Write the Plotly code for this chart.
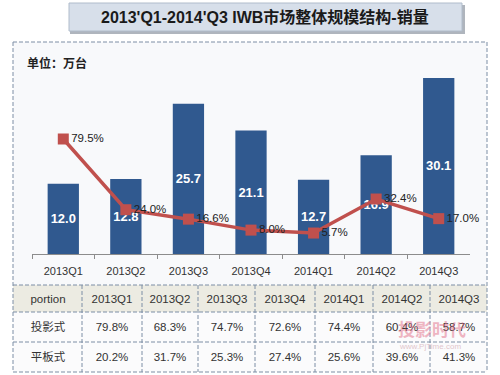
import plotly.graph_objects as go

categories = ['2013Q1', '2013Q2', '2013Q3', '2013Q4', '2014Q1', '2014Q2', '2014Q3']
sales = [12.0, 12.8, 25.7, 21.1, 12.7, 16.9, 30.1]
growth = [79.5, 24.0, 16.6, 8.0, 5.7, 32.4, 17.0]
projector_share = ['79.8%', '68.3%', '74.7%', '72.6%', '74.4%', '60.4%', '58.7%']
flat_share = ['20.2%', '31.7%', '25.3%', '27.4%', '25.6%', '39.6%', '41.3%']
row_names = ['投影式', '平板式']
header_first = 'portion'

W, H = 500, 375
FONT = 'Liberation Sans, Arial, Noto Sans CJK SC, sans-serif'


def px(x):
    return x / W


def py(y):
    return 1 - y / H


fig = go.Figure()

fig.add_trace(go.Bar(
    x=categories, y=sales, marker=dict(color='#30598f', line=dict(width=0)),
    texttemplate='%{y:.1f}', textposition='inside', insidetextanchor='middle',
    textangle=0, textfont=dict(color='white', size=13, family=FONT, weight='bold'),
    yaxis='y', showlegend=False, cliponaxis=False, hoverinfo='skip',
))

fig.add_trace(go.Scatter(
    x=categories, y=growth, mode='lines+markers+text',
    line=dict(color='#c0504d', width=3.5),
    marker=dict(symbol='square', size=11, color='#c0504d'),
    texttemplate='%{y:.1f}%', textposition='middle right',
    textfont=dict(color='#222222', size=11.5, family=FONT),
    yaxis='y2', showlegend=False, cliponaxis=False, hoverinfo='skip',
))

# ---- table built as a heatmap on its own axes ----
col_widths = [69, 60, 56, 57, 60, 58, 57, 57]
row_heights = [27, 30, 30]
x_edges = [0]
for w in col_widths:
    x_edges.append(x_edges[-1] + w)
y_edges = [0]
for h in row_heights:
    y_edges.append(y_edges[-1] + h)

table_text = [
    [header_first] + categories,
    [row_names[0]] + projector_share,
    [row_names[1]] + flat_share,
]
table_z = [[1] * 8, [0] * 8, [0] * 8]

fig.add_trace(go.Heatmap(
    x=x_edges, y=y_edges, z=table_z, text=table_text, texttemplate='%{text}',
    textfont=dict(family=FONT, size=11.5, color='#333333'),
    colorscale=[[0, '#fbfbfc'], [1, '#ecebe2']], showscale=False,
    xaxis='x3', yaxis='y3', hoverinfo='skip',
))

shapes = []
# chart panel background
shapes.append(dict(type='rect', xref='paper', yref='paper', x0=px(13), x1=px(487), y0=py(285), y1=py(42),
                   fillcolor='#f8f9fb', line=dict(width=0), layer='below'))
dash = dict(color='#7d8ea5', width=1, dash='4px,2px')
# outer dashed border
shapes.append(dict(type='line', xref='paper', yref='paper', x0=px(13), x1=px(487), y0=py(42), y1=py(42), line=dash))
shapes.append(dict(type='line', xref='paper', yref='paper', x0=px(13), x1=px(13), y0=py(42), y1=py(372), line=dash))
shapes.append(dict(type='line', xref='paper', yref='paper', x0=px(487), x1=px(487), y0=py(42), y1=py(372), line=dash))
# table grid
for yy in y_edges:
    shapes.append(dict(type='line', xref='paper', yref='paper', x0=px(13), x1=px(487),
                       y0=py(285 + yy), y1=py(285 + yy), line=dash))
for xx in x_edges[1:-1]:
    shapes.append(dict(type='line', xref='paper', yref='paper', x0=px(13 + xx), x1=px(13 + xx),
                       y0=py(285), y1=py(372), line=dash))
# title box with shadow
shapes.append(dict(type='rect', xref='paper', yref='paper', x0=px(70), x1=px(465), y0=py(34), y1=py(5),
                   fillcolor='rgba(110,120,135,0.55)', line=dict(width=0), layer='below'))
shapes.append(dict(type='rect', xref='paper', yref='paper', x0=px(69), x1=px(462), y0=py(31), y1=py(3),
                   fillcolor='#d7dfea', line=dict(color='#b0bccb', width=1), layer='below'))

annotations = [
    dict(text="2013'Q1-2014'Q3 IWB市场整体规模结构-销量", xref='paper', yref='paper', x=px(265), y=py(17),
         showarrow=False, xanchor='center', yanchor='middle',
         font=dict(family=FONT, size=16, color='#1a1a1a', weight='bold')),
    dict(text='单位：万台', xref='paper', yref='paper', x=px(25), y=py(64), showarrow=False,
         xanchor='left', yanchor='middle', font=dict(family=FONT, size=12, color='#222222', weight='bold')),
    dict(text='投影时代', xref='paper', yref='paper', x=px(432), y=py(330), showarrow=False,
         xanchor='center', yanchor='middle', opacity=0.45,
         font=dict(family=FONT, size=17, color='#e0607a', weight='bold')),
    dict(text='www.PjTime.com', xref='paper', yref='paper', x=px(430), y=py(346), showarrow=False,
         xanchor='center', yanchor='middle', opacity=0.35,
         font=dict(family=FONT, size=8, color='#b06070')),
]

fig.update_layout(
    width=W, height=H, margin=dict(l=0, r=0, t=0, b=0),
    paper_bgcolor='white', plot_bgcolor='rgba(0,0,0,0)',
    bargap=0.5,
    xaxis=dict(domain=[px(32), px(470)], showline=True, linecolor='#8c8c8c', linewidth=1,
               ticks='outside', tickson='boundaries', ticklen=4, tickcolor='#8c8c8c',
               ticklabelstandoff=7,
               tickfont=dict(family=FONT, size=11, color='#333333'), showgrid=False, zeroline=False,
               fixedrange=True),
    yaxis=dict(domain=[py(254), py(60)], range=[0, 33.16], visible=False, showgrid=False, zeroline=False),
    yaxis2=dict(overlaying='y', range=[-10.75, 141.5], visible=False, showgrid=False, zeroline=False),
    xaxis3=dict(domain=[px(13), px(487)], range=[0, x_edges[-1]], visible=False, anchor='y3'),
    yaxis3=dict(domain=[py(372), py(285)], range=[y_edges[-1], 0], visible=False, anchor='x3'),
    shapes=shapes, annotations=annotations,
    font=dict(family=FONT),
)

fig.write_html('out.html', config={'displayModeBar': False},
               post_script="document.body.style.margin='0';")
